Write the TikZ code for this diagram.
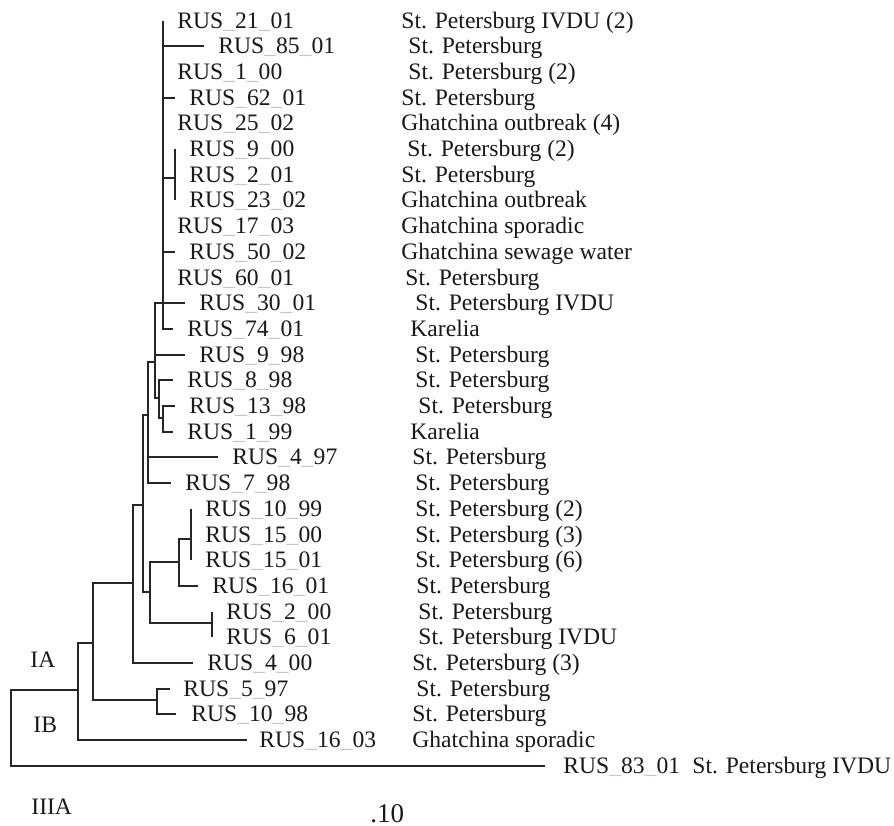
\documentclass[tikz,border=0pt]{standalone}
\usepackage{fontspec}
\setmainfont{Liberation Serif}
\newcommand{\us}{\textcolor{black!22}{\_}}
\begin{document}
\begin{tikzpicture}[x=0.5pt,y=-0.5pt,
  branch/.style={line width=1pt,color=black!85},
  taxon/.style={anchor=base west,inner sep=0pt,text=black!90,font=\fontsize{11.8}{14}\selectfont}]
\useasboundingbox (0,0) rectangle (894,825);
% edit here for the leaves: row/tip x/strain x/strain/place x/place
\foreach \i/\tx/\lx/\id/\px/\place in {
 1/163/177/21\us 01/401/{St. Petersburg IVDU (2)},
 2/204/218/85\us 01/408/{St. Petersburg},
 3/163/177/1\us 00/408/{St. Petersburg (2)},
 4/175/189/62\us 01/401/{St. Petersburg},
 5/163/177/25\us 02/401/{Ghatchina outbreak (4)},
 6/175/189/9\us 00/407/{St. Petersburg (2)},
 7/175/189/2\us 01/401/{St. Petersburg},
 8/175/189/23\us 02/401/{Ghatchina outbreak},
 9/163/177/17\us 03/401/{Ghatchina sporadic},
 10/175/189/50\us 02/401/{Ghatchina sewage water},
 11/163/177/60\us 01/405/{St. Petersburg},
 12/185/199/30\us 01/415/{St. Petersburg IVDU},
 13/173/187/74\us 01/410/{Karelia},
 14/185/199/9\us 98/415/{St. Petersburg},
 15/173/187/8\us 98/415/{St. Petersburg},
 16/175/189/13\us 98/418/{St. Petersburg},
 17/173/187/1\us 99/410/{Karelia},
 18/218/232/4\us 97/412/{St. Petersburg},
 19/171/185/7\us 98/415/{St. Petersburg},
 20/191/205/10\us 99/415/{St. Petersburg (2)},
 21/191/205/15\us 00/415/{St. Petersburg (3)},
 22/191/205/15\us 01/415/{St. Petersburg (6)},
 23/198/212/16\us 01/416/{St. Petersburg},
 24/212/226/2\us 00/418/{St. Petersburg},
 25/212/226/6\us 01/418/{St. Petersburg IVDU},
 26/193/207/4\us 00/412/{St. Petersburg (3)},
 27/170/183/5\us 97/416/{St. Petersburg},
 28/176/191/10\us 98/412/{St. Petersburg},
 29/247/259/16\us 03/412/{Ghatchina sporadic},
 30/545/563/83\us 01/692/{St. Petersburg IVDU}}
{
\coordinate (t\i) at (\tx,{20.5+(\i-1)*25.7});
\node[taxon] (s\i) at (\lx,{28+(\i-1)*25.7}) {RUS\us\id};
\node[taxon] (p\i) at (\px,{28+(\i-1)*25.7}) {\place};
}
% inner nodes of the tree
\coordinate (root) at (11,728);
\coordinate (n1) at (78,690);
\coordinate (n2) at (93,643);
\coordinate (n3) at (157,700);
\coordinate (n4) at (133,583);
\coordinate (n5) at (143,505);
\coordinate (n6) at (148,415);
\coordinate (n7) at (155,362);
\coordinate (n8) at (163,303.2);
\coordinate (n9) at (175,178);
\coordinate (n10) at (159,398);
\coordinate (n11) at (163,418);
\coordinate (n12) at (150,592);
\coordinate (n13) at (179,562);
\coordinate (n14) at (191,539);
\coordinate (n15) at (212,623);
% edit here for the branches
\foreach \a/\b in {root/n1,root/t30,n1/n2,n1/t29,n2/n4,n2/n3,n3/t27,n3/t28,
  n4/n5,n4/t26,n5/n6,n5/n12,n6/n7,n6/t18,n6/t19,n7/n8,n7/t14,n7/n10,
  n8/t1,n8/t2,n8/t3,n8/t4,n8/t5,n8/n9,n8/t9,n8/t10,n8/t11,n8/t12,n8/t13,
  n9/t6,n9/t7,n9/t8,n10/t15,n10/n11,n11/t16,n11/t17,
  n12/n13,n12/n15,n13/n14,n13/t23,n14/t20,n14/t21,n14/t22,n15/t24,n15/t25}
\draw[branch] (\a) |- (\b);
% clade names and scale
\node[taxon] (ia) at (30,667.5) {IA};
\node[taxon] (ib) at (33,732.5) {IB};
\node[taxon] (iiia) at (31,814.5) {IIIA};
\node[taxon,font=\fontsize{13.5}{16}\selectfont] (scale) at (370,822) {.10};
\end{tikzpicture}
\end{document}
